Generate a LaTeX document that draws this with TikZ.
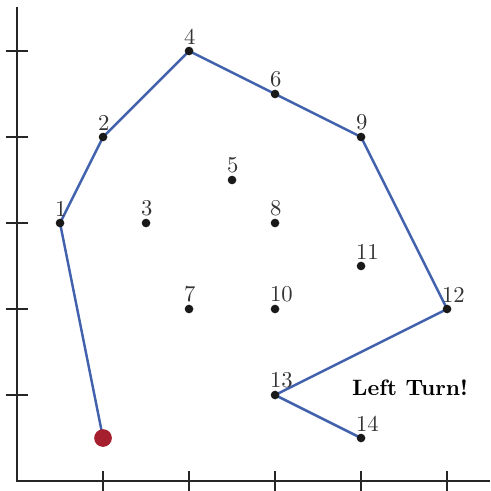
\documentclass[tikz,border=0pt]{standalone}
\usepackage{amsmath,amssymb}
\usetikzlibrary{positioning}
\definecolor{hullblue}{RGB}{66,97,172}
\definecolor{startred}{RGB}{166,31,46}
\pgfdeclarelayer{background}
\pgfsetlayers{background,main}

\begin{document}
\begin{tikzpicture}[
    x=1.4cm, y=1.4cm,
    dot/.style={circle, fill=black!90, inner sep=0pt, minimum size=4pt,
      label={[anchor=south west, inner sep=0pt, xshift=-2.5pt, yshift=0.8pt, text=black!80, font=\fontsize{10.5}{12}\selectfont]north:#1}},
    redpt/.style={circle, fill=startred, inner sep=0pt, minimum size=8.2pt},
    hull/.style={hullblue, line width=1.15pt, line join=round},
    axis/.style={black!85, line width=0.75pt}
  ]
    \useasboundingbox (-0.198,-0.116) rectangle (5.5,5.593);

    % axes and ticks
    \draw[axis] (0,5.51) -- (0,0) -- (5.5,0);
    \foreach \t in {1,...,5} {
      \draw[axis] (\t,-0.12) -- (\t,0.12);
      \draw[axis] (-0.13,\t) -- (0.13,\t);
    }

    % points
    \node[dot=1] (p1) at (0.5,3) {};
    \node[dot=2] (p2) at (1,4) {};
    \node[dot=3] (p3) at (1.5,3) {};
    \node[dot=4] (p4) at (2,5) {};
    \node[dot=5] (p5) at (2.5,3.5) {};
    \node[dot=6] (p6) at (3,4.5) {};
    \node[dot=7] (p7) at (2,2) {};
    \node[dot=8] (p8) at (3,3) {};
    \node[dot=9] (p9) at (4,4) {};
    \node[dot=10] (p10) at (3,2) {};
    \node[dot=11] (p11) at (4,2.5) {};
    \node[dot=12] (p12) at (5,2) {};
    \node[dot=13] (p13) at (3,1) {};
    \node[dot=14] (p14) at (4,0.5) {};
    \node[redpt] (start) at (1,0.5) {};

    % hull so far, behind the points
    \begin{pgfonlayer}{background}
      \draw[hull] (start.center) -- (p1.center) -- (p2.center) -- (p4.center)
        -- (p6.center) -- (p9.center) -- (p12.center) -- (p13.center) -- (p14.center);
    \end{pgfonlayer}

    \node[font=\bfseries\fontsize{10.3}{12}\selectfont] (turn) at (4.57,1.09) {Left Turn!};
  \end{tikzpicture}
\end{document}
